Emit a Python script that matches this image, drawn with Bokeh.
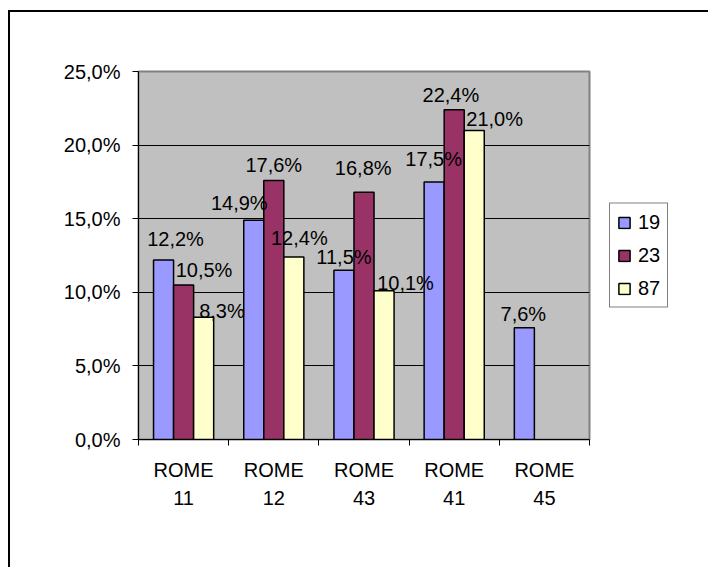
import math
from bokeh.plotting import figure
from bokeh.models import (ColumnDataSource, FactorRange, Range1d, FixedTicker, LinearAxis,
                          CategoricalAxis, LabelSet, Legend, LegendItem)
from bokeh.core.properties import value
from bokeh.transform import dodge
from bokeh.embed import file_html
from bokeh.resources import INLINE

# ---- data ----
categories = ["ROME\n11", "ROME\n12", "ROME\n43", "ROME\n41", "ROME\n45"]
series_names = ["19", "23", "87"]
s19 = [12.2, 14.9, 11.5, 17.5, 7.6]
s23 = [10.5, 17.6, 16.8, 22.4, float("nan")]
s87 = [8.3, 12.4, 10.1, 21.0, float("nan")]
y_ticks = [0, 5, 10, 15, 20, 25]
y_tick_labels = ["0,0%", "5,0%", "10,0%", "15,0%", "20,0%", "25,0%"]

# ---- style ----
FONT = "Liberation Sans"
FS = "20px"
colors = ["#9999FF", "#993366", "#FFFFCC"]
bar_w = 1 / 4.5
offsets = [-bar_w, 0.0, bar_w]
# manual data-label nudges (screen px): (dx, dy up)
label_nudges = [
    [(12, 20.6), (-14.5, 17.5), (0, 13.5), (-0.5, 23.4), (-1, 14)],
    [(20.4, 14.7), (0, 15.6), (-0.8, 23.9), (-3.3, 14.5), (0, 0)],
    [(18.3, 6.3), (5.5, 19.3), (21.5, 8.2), (20.4, 11), (0, 0)],
]

src = ColumnDataSource(data=dict(cat=categories, s19=s19, s23=s23, s87=s87))

p = figure(x_range=FactorRange(factors=categories, range_padding=0),
           y_range=Range1d(0, 25),
           frame_width=451, frame_height=368,
           min_border_left=128, min_border_top=59, min_border_right=115, min_border_bottom=130,
           x_axis_location=None, y_axis_location="left",
           output_backend="svg", toolbar_location=None,
           background_fill_color="#C0C0C0", border_fill_color="white",
           outline_line_color="#808080", outline_line_width=2)
p.margin = (12, 0, 0, 10)
p.styles = {"box-shadow": "-2px -2px 0 0 black"}

p.xgrid.visible = False
p.ygrid.ticker = FixedTicker(ticks=y_ticks[1:-1])
p.ygrid.grid_line_color = "black"
p.ygrid.grid_line_width = 1

ya = p.yaxis[0]
ya.ticker = FixedTicker(ticks=y_ticks)
ya.major_label_overrides = {t: l for t, l in zip(y_ticks, y_tick_labels)}
ya.minor_tick_line_color = None
ya.major_tick_in = 0
ya.major_tick_out = 6
ya.axis_line_color = "black"
ya.major_tick_line_color = "black"
ya.major_label_standoff = 12
ya.major_label_text_font = FONT
ya.major_label_text_font_size = FS
ya.major_label_text_color = "black"

# x tick marks at category boundaries (synthetic coordinates of the factor range)
bounds = list(range(len(categories) + 1))
tick_axis = LinearAxis(ticker=FixedTicker(ticks=bounds),
                       major_label_overrides={b: "" for b in bounds},
                       major_label_text_font_size="0px", major_tick_in=0, major_tick_out=6,
                       minor_tick_line_color=None, axis_line_color="black",
                       major_tick_line_color="black", major_label_standoff=0)
p.add_layout(tick_axis, "below")
cat_axis = CategoricalAxis(major_tick_line_color=None, axis_line_color=None,
                           major_label_text_font=FONT, major_label_text_font_size=FS,
                           major_label_text_color="black",
                           major_label_standoff=7, major_label_text_line_height=1.3)
p.add_layout(cat_axis, "below")

renderers = []
for i, (name, col) in enumerate(zip(series_names, ["s19", "s23", "s87"])):
    r = p.vbar(x=dodge("cat", offsets[i], range=p.x_range), top=col, width=bar_w, source=src,
               fill_color=colors[i], line_color="black", line_width=1.5)
    renderers.append(r)
    vals = src.data[col]
    cats_l, ys, txt, xo, yo = [], [], [], [], []
    for j, v in enumerate(vals):
        if v is None or (isinstance(v, float) and math.isnan(v)):
            continue
        cats_l.append(categories[j])
        ys.append(v)
        txt.append(f"{v:.1f}%".replace(".", ","))
        xo.append(label_nudges[i][j][0])
        yo.append(label_nudges[i][j][1])
    lsrc = ColumnDataSource(data=dict(cat=cats_l, y=ys, text=txt, xo=xo, yo=yo))
    p.add_layout(LabelSet(x=dodge("cat", offsets[i], range=p.x_range), y="y", text="text",
                          x_offset="xo", y_offset="yo", source=lsrc,
                          text_align="center", text_baseline="middle",
                          text_font=value(FONT), text_font_size=value(FS), text_color="black"))

legend = Legend(items=[LegendItem(label=n, renderers=[r]) for n, r in zip(series_names, renderers)],
                location="left", orientation="vertical",
                border_line_color="black", border_line_width=1, background_fill_color="white",
                background_fill_alpha=1, label_text_font=FONT, label_text_font_size=FS,
                label_text_color="black", glyph_width=14, glyph_height=14, label_height=20,
                spacing=10, padding=7, margin=20, label_standoff=7)
p.add_layout(legend, "right")

open("out.html", "w").write(file_html(p, INLINE))
